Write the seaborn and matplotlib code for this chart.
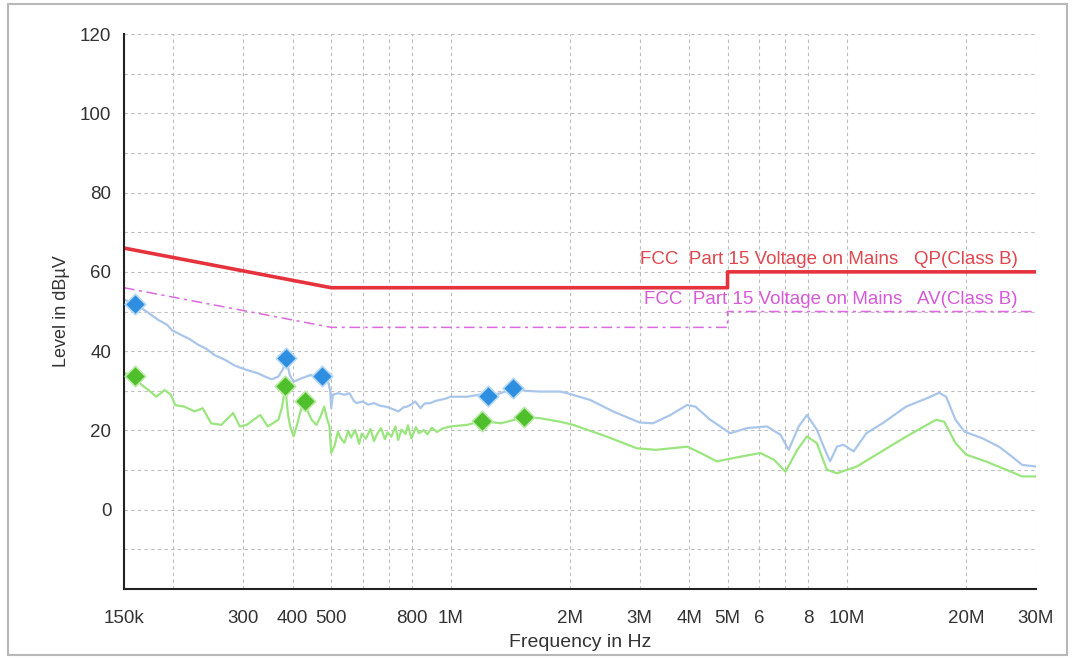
import matplotlib
matplotlib.use("Agg")
import matplotlib.pyplot as plt
import seaborn as sns
import numpy as np
import pandas as pd
from matplotlib.patches import Rectangle

# peak trace (light blue), frequency in MHz / level in dBuV
peak_mhz = [0.150, 0.160, 0.171, 0.183, 0.193, 0.198, 0.210, 0.220, 0.231, 0.242,
            0.254, 0.270, 0.285, 0.297, 0.312, 0.327, 0.340, 0.354, 0.368, 0.378,
            0.385, 0.393, 0.402, 0.422, 0.444, 0.460, 0.475, 0.490, 0.497, 0.500,
            0.505, 0.520, 0.540, 0.556, 0.570, 0.579, 0.600, 0.620, 0.641, 0.665,
            0.687, 0.710, 0.739, 0.760, 0.776, 0.795, 0.815, 0.840, 0.860, 0.891,
            0.920, 0.940, 0.970, 1.00, 1.10, 1.18, 1.245, 1.34, 1.434, 1.55,
            1.68, 1.89, 1.97, 2.25, 2.57, 3.00, 3.24, 3.59, 3.95, 4.15,
            4.52, 5.08, 5.60, 6.29, 6.80, 7.13, 7.56, 7.93, 8.40, 8.74,
            9.07, 9.44, 9.80, 10.4, 11.2, 12.3, 14.1, 15.9, 17.1, 17.8,
            18.8, 19.8, 22.0, 24.2, 26.1, 27.7, 30.0]
peak_level = [53.0, 51.9, 50.0, 47.9, 46.6, 45.3, 44.0, 43.0, 41.6, 40.6,
              39.0, 37.8, 36.4, 35.7, 35.0, 34.4, 33.6, 32.9, 33.6, 35.5,
              38.2, 34.0, 32.3, 33.2, 34.0, 33.3, 33.8, 32.7, 30.0, 25.6,
              29.0, 29.4, 29.0, 29.4, 27.5, 26.9, 27.3, 26.5, 26.9, 26.2,
              26.0, 25.5, 24.8, 25.8, 26.0, 26.5, 27.3, 25.6, 26.8, 26.9,
              27.5, 27.7, 28.0, 28.5, 28.5, 29.0, 28.7, 29.4, 30.6, 30.0,
              29.8, 29.8, 29.4, 27.7, 24.8, 22.0, 21.8, 23.9, 26.4, 26.0,
              22.7, 19.3, 20.6, 21.0, 18.9, 15.1, 21.0, 23.9, 20.2, 15.9,
              12.2, 15.9, 16.4, 14.7, 19.3, 21.8, 26.0, 28.1, 29.5, 28.5,
              22.7, 19.7, 18.0, 15.9, 13.4, 11.3, 10.9]

# average trace (light green)
avg_mhz = [0.150, 0.160, 0.166, 0.173, 0.181, 0.190, 0.197, 0.202, 0.213, 0.226,
           0.237, 0.249, 0.264, 0.283, 0.294, 0.306, 0.331, 0.346, 0.368, 0.376,
           0.383, 0.389, 0.394, 0.402, 0.411, 0.420, 0.429, 0.438, 0.446, 0.459,
           0.470, 0.480, 0.488, 0.495, 0.500, 0.510, 0.520, 0.528, 0.540, 0.552,
           0.561, 0.575, 0.588, 0.597, 0.612, 0.628, 0.641, 0.652, 0.668, 0.683,
           0.694, 0.709, 0.726, 0.738, 0.752, 0.770, 0.781, 0.797, 0.818, 0.833,
           0.856, 0.874, 0.897, 0.925, 0.955, 1.00, 1.10, 1.20, 1.34, 1.53,
           1.68, 1.89, 2.04, 2.47, 2.95, 3.30, 3.95, 4.20, 4.70, 5.40,
           6.05, 6.55, 7.00, 7.50, 7.93, 8.40, 8.90, 9.44, 10.6, 12.8,
           14.6, 16.8, 17.6, 18.8, 20.0, 22.4, 25.2, 27.7, 30.0]
avg_level = [34.5, 33.8, 31.5, 30.2, 28.5, 30.2, 29.0, 26.4, 26.0, 24.8,
             25.6, 21.8, 21.4, 24.4, 21.0, 21.4, 23.9, 21.0, 22.7, 26.0,
             31.2, 24.0, 21.0, 18.5, 21.8, 25.5, 27.5, 24.5, 22.7, 21.4,
             23.5, 26.0, 23.0, 21.0, 14.3, 16.2, 19.7, 18.1, 16.9, 19.9,
             18.2, 20.1, 16.6, 19.2, 17.9, 20.4, 17.3, 19.0, 20.6, 17.8,
             19.5, 18.4, 21.0, 17.6, 20.2, 19.1, 21.3, 18.0, 20.8, 19.3,
             20.1, 19.0, 20.7, 19.6, 20.5, 21.0, 21.4, 22.4, 21.8, 23.3,
             23.1, 22.2, 21.4, 18.5, 15.5, 15.1, 15.9, 14.7, 12.2, 13.4,
             14.3, 12.6, 9.6, 15.1, 18.5, 16.8, 10.1, 9.2, 10.9, 15.9,
             19.3, 22.7, 22.2, 16.8, 13.9, 12.2, 10.1, 8.4, 8.4]

# final measurement markers
peak_mk_mhz = [0.160, 0.385, 0.475, 1.245, 1.434]
peak_mk_level = [51.9, 38.2, 33.8, 28.7, 30.6]
avg_mk_mhz = [0.160, 0.383, 0.429, 1.20, 1.53]
avg_mk_level = [33.8, 31.2, 27.5, 22.4, 23.3]

# FCC Part 15 class B limits
lim_mhz = [0.15, 0.5, 5.0, 5.0, 30.0]
qp_limit = [66, 56, 56, 60, 60]
av_limit = [56, 46, 46, 50, 50]

xtick_mhz = [0.15, 0.2, 0.3, 0.4, 0.5, 0.6, 0.7, 0.8, 1, 2, 3, 4, 5, 6, 7, 8, 10, 20, 30]
xtick_labels = ["150k", "", "300", "400", "500", "", "", "800", "1M", "2M", "3M",
                "4M", "5M", "6", "", "8", "10M", "20M", "30M"]

sns.set_style("white")
plt.rcParams["font.family"] = ["Liberation Sans", "DejaVu Sans"]

fig = plt.figure(figsize=(10.75, 6.59), dpi=100)
ax = fig.add_axes([0.1153, 0.1062, 0.8484, 0.8422])

peak = pd.DataFrame({"f": np.array(peak_mhz) * 1e6, "level": peak_level})
avg = pd.DataFrame({"f": np.array(avg_mhz) * 1e6, "level": avg_level})
lim = pd.DataFrame({"f": np.array(lim_mhz) * 1e6, "qp": qp_limit, "av": av_limit})

sns.lineplot(data=peak, x="f", y="level", ax=ax, color="#a9c6ea", lw=1.6,
             estimator=None, sort=False)
sns.lineplot(data=avg, x="f", y="level", ax=ax, color="#9be57f", lw=1.6,
             estimator=None, sort=False)
sns.lineplot(data=lim, x="f", y="qp", ax=ax, color="#e5323c", lw=2.6,
             estimator=None, sort=False)
sns.lineplot(data=lim, x="f", y="av", ax=ax, color="#dc6ae0", lw=1.1,
             estimator=None, sort=False, linestyle=(0, (7, 3, 2, 3)))

sns.scatterplot(x=np.array(peak_mk_mhz) * 1e6, y=peak_mk_level, ax=ax, marker="D",
                s=110, color="#2e8fe0", edgecolor="#b5d8f5", linewidth=1.2, zorder=5)
sns.scatterplot(x=np.array(avg_mk_mhz) * 1e6, y=avg_mk_level, ax=ax, marker="D",
                s=110, color="#4fc02c", edgecolor="#bdeaa8", linewidth=1.2, zorder=5)

ax.text(27e6, 61.0, "FCC  Part 15 Voltage on Mains   QP(Class B)", color="#e0474f",
        fontsize=13.5, ha="right", va="bottom")
ax.text(27e6, 51.0, "FCC  Part 15 Voltage on Mains   AV(Class B)", color="#d65ad8",
        fontsize=13.5, ha="right", va="bottom")

ax.set_xscale("log")
ax.set_xlim(150e3, 30e6)
ax.set_ylim(-20, 120)
ax.set_xticks(np.array(xtick_mhz) * 1e6)
ax.set_xticklabels(xtick_labels, fontsize=13.5, color="#333333")
ax.xaxis.set_minor_locator(matplotlib.ticker.NullLocator())
ax.set_yticks(range(-10, 121, 10))
ax.set_yticklabels([str(v) if v % 20 == 0 and v >= 0 else "" for v in range(-10, 121, 10)],
                   fontsize=13.5, color="#333333")

ax.grid(True, color="#bdbdbd", lw=0.8, linestyle=(0, (3, 3)))
ax.tick_params(axis="both", direction="inout", length=12, width=1.5, color="#333333")
ax.tick_params(axis="x", pad=9)
ax.tick_params(axis="y", pad=3)
for side in ["top", "right"]:
    ax.spines[side].set_visible(False)
for side in ["left", "bottom"]:
    ax.spines[side].set_color("#222222")
    ax.spines[side].set_linewidth(1.5)

ax.set_xlabel("Frequency in Hz", fontsize=14, color="#333333", labelpad=5)
ax.set_ylabel("Level in dB\u00b5V", fontsize=13, color="#333333", labelpad=7)

fig.patches.append(Rectangle((0.007, 0.006), 0.986, 0.988, transform=fig.transFigure,
                             fill=False, edgecolor="#b8b8b8", lw=1.5))

fig.savefig("out.png", dpi=100)
